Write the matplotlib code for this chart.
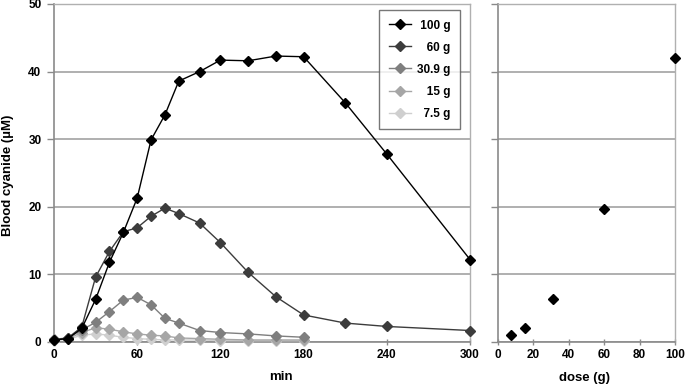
import matplotlib
matplotlib.use('Agg')

import matplotlib.pyplot as plt

# sampling times (min)
times = [0, 10, 20, 30, 40, 50, 60, 70, 80, 90, 105, 120, 140, 160, 180, 210, 240, 300]
times_short = times[:15]  # low doses followed up to 180 min

cn_100 = [0.3, 0.5, 2.0, 6.3, 11.8, 16.2, 21.3, 29.9, 33.6, 38.6, 40.0, 41.7, 41.6, 42.3, 42.2, 35.4, 27.8, 12.2]
cn_60 = [0.3, 0.6, 2.2, 9.6, 13.4, 16.3, 16.9, 18.6, 19.8, 19.0, 17.6, 14.7, 10.3, 6.7, 4.0, 2.8, 2.3, 1.7]
cn_309 = [0.4, 0.6, 1.8, 2.9, 4.5, 6.2, 6.6, 5.5, 3.5, 2.8, 1.7, 1.4, 1.2, 0.9, 0.7]
cn_15 = [0.3, 0.5, 1.4, 2.1, 1.9, 1.5, 1.2, 1.0, 0.9, 0.6, 0.5, 0.4, 0.3, 0.3, 0.3]
cn_75 = [0.2, 0.4, 1.0, 1.2, 1.0, 0.7, 0.5, 0.4, 0.3, 0.3, 0.3, 0.2, 0.2, 0.2, 0.2]

# legend labels, padded with figure/punctuation spaces so they line up on the right
labels = ['\u2008100 g', '\u2008\u200760 g', '30.9 g', '\u2008\u200715 g', '\u20077.5 g']

doses = [7.5, 15, 30.9, 60, 100]
peak_cn = [1.1, 2.1, 6.4, 19.7, 42.0]

plt.rcParams['font.family'] = ['Liberation Sans', 'DejaVu Sans']
plt.rcParams['font.weight'] = 'bold'
plt.rcParams['axes.labelweight'] = 'bold'
plt.rcParams['font.size'] = 8.5

fig = plt.figure(figsize=(6.85, 3.85), dpi=100)
W, H = 685, 385
ax1 = fig.add_axes([54 / W, (H - 342) / H, (470 - 54) / W, (342 - 4) / H])
ax2 = fig.add_axes([498 / W, (H - 342) / H, (675 - 498) / W, (342 - 4) / H])

colors = ['#000000', '#3c3c3c', '#7f7f7f', '#a6a6a6', '#cfcfcf']
series = [(times, cn_100), (times, cn_60), (times_short, cn_309),
          (times_short, cn_15), (times_short, cn_75)]
for i, (t, y) in enumerate(series):
    ax1.plot(t, y, color=colors[i], marker='D', markersize=4.8, linewidth=1.0,
             label=labels[i], clip_on=False, zorder=10 - i)

ax2.plot(doses, peak_cn, linestyle='none', marker='D', markersize=5.5,
         color='black', clip_on=False, zorder=10)

for ax in (ax1, ax2):
    ax.set_ylim(0, 50)
    ax.set_yticks([0, 10, 20, 30, 40, 50])
    ax.grid(axis='y', color='#9a9a9a', linewidth=1.1)
    ax.set_axisbelow(True)
    for s in ['top', 'right']:
        ax.spines[s].set_color('#b0b0b0')
        ax.spines[s].set_linewidth(1.0)
    for s in ['left', 'bottom']:
        ax.spines[s].set_color('#8a8a8a')
        ax.spines[s].set_linewidth(1.2)
    ax.tick_params(axis='y', direction='out', length=5, width=1, color='#8a8a8a', pad=4)
    ax.tick_params(axis='x', direction='inout', length=4, width=1, color='#8a8a8a', pad=3)

ax1.set_xlim(0, 300)
ax1.set_xticks([0, 60, 120, 180, 240, 300])
ax1.set_ylabel('Blood cyanide (µM)', fontsize=9.5, fontweight='bold')
ax1.yaxis.set_label_coords(-0.097, 0.493)
ax1.set_xlabel('min', fontsize=9.5, fontweight='bold')
ax1.xaxis.set_label_coords(0.546, -0.086)

ax2.set_xlim(0, 100)
ax2.set_xticks([0, 20, 40, 60, 80, 100])
ax2.set_yticklabels([])
ax2.set_xlabel('dose (g)', fontsize=9.5, fontweight='bold')
ax2.xaxis.set_label_coords(0.49, -0.09)

for ax in (ax1, ax2):
    for lab in ax.get_xticklabels() + ax.get_yticklabels():
        lab.set_fontweight('bold')

leg = ax1.legend(loc='upper right', bbox_to_anchor=(0.976, 0.982), borderaxespad=0,
                 frameon=True, fancybox=False, edgecolor='#555555', handlelength=1.9,
                 labelspacing=0.85, borderpad=0.8, handletextpad=0.5,
                 prop={'weight': 'bold', 'size': 8.5})
leg.get_frame().set_linewidth(1.0)

fig.savefig('out.png', dpi=100)
